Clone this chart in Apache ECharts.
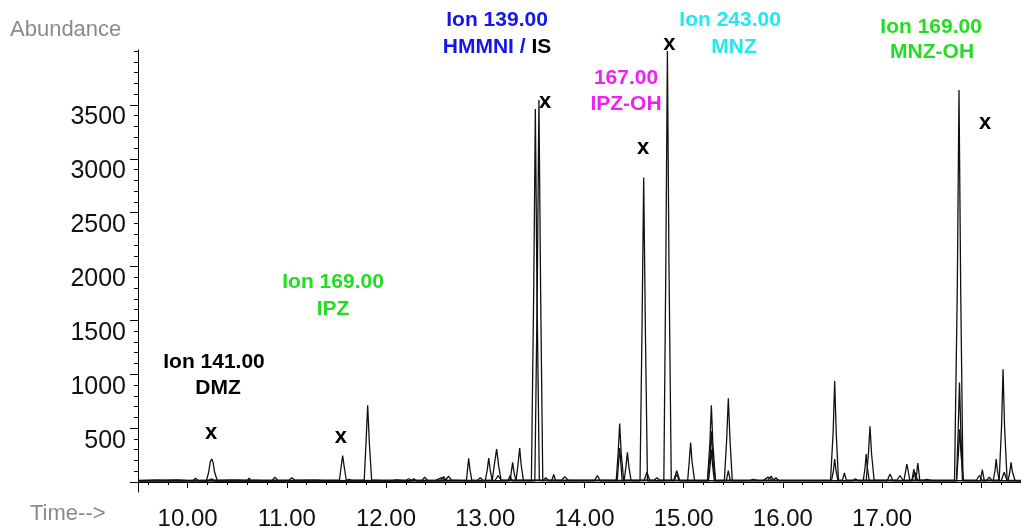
<!DOCTYPE html>
<html>
<head>
<meta charset="utf-8">
<title>Ion chromatograms</title>
<script src="https://cdn.jsdelivr.net/npm/echarts@6.0.0/dist/echarts.min.js"></script>
<style>
  html, body { margin: 0; padding: 0; background: #fff; }
  #main { width: 1021px; height: 531px; }
</style>
</head>
<body>
<div id="main"></div>
<script>
// axis ranges (time in min, abundance in counts)
var timeMin = 9.5, timeMax = 18.4;
var abundMin = -93, abundMax = 4010;

var timeLabels = [10, 11, 12, 13, 14, 15, 16, 17];
var timeMajorTicks = [10, 11, 12, 13, 14, 15, 16, 17, 18];
var abundLabels = [500, 1000, 1500, 2000, 2500, 3000, 3500];
var abundMajorTicks = [0, 500, 1000, 1500, 2000, 2500, 3000, 3500];

// ion traces, [time, abundance]
var ion141 = [
  [9.5, 12], [9.7, 16], [9.8, 10], [10.05, 10], [10.08, 35], [10.11, 10], [10.19, 12], [10.212, 90],
  [10.228, 185], [10.242, 213], [10.256, 185], [10.272, 90], [10.30, 12], [10.5, 18], [10.6, 10],
  [10.85, 12], [10.88, 45], [10.91, 12], [11.3, 18], [11.4, 10], [12.06, 10], [12.1, 20], [12.2, 10],
  [12.5, 15], [12.56, 40], [12.6, 15], [12.81, 14], [12.822, 120], [12.833, 219], [12.845, 120],
  [12.865, 14], [12.92, 14], [12.95, 40], [12.98, 14], [13.07, 14], [13.09, 150], [13.115, 306],
  [13.135, 150], [13.16, 14], [13.77, 14], [13.8, 50], [13.84, 14], [14.9, 14], [14.93, 105],
  [14.96, 14], [15.04, 12], [15.056, 190], [15.07, 367], [15.084, 190], [15.11, 12], [15.67, 12],
  [15.7, 25], [15.75, 12], [16.84, 14], [16.862, 260], [16.878, 516], [16.894, 260], [16.92, 14],
  [17.22, 14], [17.25, 167], [17.28, 14], [17.42, 14], [17.45, 25], [17.5, 12], [18.27, 14],
  [18.288, 95], [18.30, 182], [18.313, 95], [18.34, 14], [18.4, 12]
];
var ion169 = [
  [9.5, 15], [9.9, 20], [10.0, 14], [10.4, 18], [11.02, 16], [11.05, 40], [11.08, 16], [11.53, 16],
  [11.546, 130], [11.563, 244], [11.58, 130], [11.6, 16], [11.78, 16], [11.798, 360], [11.815, 713],
  [11.832, 360], [11.855, 16], [12.2, 16], [12.23, 30], [12.26, 16], [12.6, 14], [12.63, 55],
  [12.66, 14], [13.1, 16], [13.13, 60], [13.16, 16], [14.32, 16], [14.34, 270], [14.355, 543],
  [14.37, 270], [14.395, 16], [14.7, 16], [14.73, 40], [14.76, 16], [15.24, 16], [15.264, 360],
  [15.279, 713], [15.294, 360], [15.32, 16], [15.85, 16], [15.88, 55], [15.91, 16], [16.48, 16],
  [16.507, 470], [16.522, 938], [16.537, 470], [16.56, 16], [16.6, 16], [16.62, 83], [16.64, 16],
  [17.15, 16], [17.18, 60], [17.21, 16], [17.73, 16], [17.758, 1800], [17.775, 3639], [17.792, 1800],
  [17.815, 16], [17.95, 16], [17.98, 60], [18.01, 16], [18.18, 16], [18.204, 520], [18.219, 1046],
  [18.234, 520], [18.26, 16], [18.4, 14]
];
var ion139 = [
  [9.5, 10], [9.9, 14], [10.2, 8], [10.24, 30], [10.28, 8], [10.6, 10], [10.62, 35], [10.64, 10],
  [11.6, 10], [11.63, 25], [11.66, 10], [12.36, 12], [12.39, 45], [12.42, 12], [12.55, 12], [12.58, 50],
  [12.61, 12], [13.0, 12], [13.02, 110], [13.035, 222], [13.05, 110], [13.07, 12], [13.31, 12],
  [13.33, 160], [13.347, 315], [13.362, 160], [13.385, 12], [13.465, 12], [13.488, 1730], [13.505, 3463],
  [13.522, 1730], [13.545, 12], [13.67, 12], [13.69, 70], [13.71, 12], [14.4, 12], [14.418, 140],
  [14.433, 275], [14.448, 140], [14.47, 12], [15.41, 12], [15.433, 390], [15.45, 778], [15.467, 390],
  [15.49, 12], [15.9, 12], [15.93, 40], [15.96, 12], [17.3, 12], [17.32, 120], [17.34, 12], [17.36, 176],
  [17.38, 12], [17.99, 12], [18.01, 114], [18.03, 12], [18.2, 12], [18.23, 90], [18.26, 12], [18.4, 10]
];
var ion167 = [
  [9.5, 8], [10.1, 12], [10.3, 8], [11.9, 10], [12.25, 8], [12.28, 30], [12.31, 8], [13.23, 10],
  [13.25, 60], [13.27, 10], [13.5, 10], [13.524, 1770], [13.541, 3546], [13.558, 1770], [13.58, 10],
  [13.61, 40], [13.64, 10], [14.10, 10], [14.13, 60], [14.16, 10], [14.56, 10],
  [14.58, 1410], [14.597, 2827], [14.614, 1410], [14.635, 10], [14.9, 10], [14.93, 70], [14.96, 10],
  [15.25, 10], [15.266, 150], [15.279, 300], [15.292, 150], [15.31, 10], [15.8, 12], [15.85, 45],
  [15.9, 12], [16.7, 10], [16.73, 30], [16.76, 10], [17.05, 10], [17.08, 74], [17.11, 10], [17.75, 10],
  [17.768, 250], [17.782, 490], [17.796, 250], [17.82, 10], [18.05, 10], [18.08, 45], [18.11, 10],
  [18.4, 10]
];
var ion243 = [
  [9.5, 12], [10.7, 14], [10.8, 10], [11.9, 14], [12.0, 10], [12.7, 14], [12.8, 10], [13.25, 12],
  [13.262, 90], [13.276, 182], [13.29, 90], [13.31, 12], [14.33, 12], [14.342, 160], [14.355, 315],
  [14.368, 160], [14.38, 12], [14.60, 12], [14.63, 90], [14.66, 12], [14.80, 12], [14.82, 2000],
  [14.836, 4000], [14.852, 2000], [14.875, 12], [15.24, 12], [15.265, 235], [15.279, 470], [15.293, 235],
  [15.32, 12], [15.43, 12], [15.45, 105], [15.47, 12], [16.49, 12], [16.51, 110], [16.522, 213],
  [16.535, 110], [16.555, 12], [16.81, 12], [16.828, 130], [16.84, 259], [16.852, 130], [16.87, 12],
  [17.3, 12], [17.33, 90], [17.36, 12], [17.75, 12], [17.766, 460], [17.78, 923], [17.794, 460],
  [17.81, 12], [18.12, 12], [18.138, 105], [18.15, 213], [18.162, 105], [18.18, 12], [18.4, 12]
];

// peak labels, placed in data coordinates
var notes = [
  { t: 10.266, v: 1111, text: 'Ion 141.00', color: '#000000' },
  { t: 10.306, v: 870, text: 'DMZ', color: '#000000' },
  { t: 11.466, v: 1852, text: 'Ion 169.00', color: '#22dd22' },
  { t: 11.466, v: 1602, text: 'IPZ', color: '#22dd22' },
  { t: 13.119, v: 4290, text: 'Ion 139.00', color: '#1414f0' },
  { t: 13.119, v: 4040, text: '{b|HMMNI /} {k|IS}', color: '#1414f0' },
  { t: 14.419, v: 3750, text: '167.00', color: '#ee22ee' },
  { t: 14.419, v: 3509, text: 'IPZ-OH', color: '#ee22ee' },
  { t: 15.468, v: 4290, text: 'Ion 243.00', color: '#22e8f0' },
  { t: 15.508, v: 4040, text: 'MNZ', color: '#22e8f0' },
  { t: 17.494, v: 4222, text: 'Ion 169.00', color: '#22dd22' },
  { t: 17.504, v: 3991, text: 'MNZ-OH', color: '#22dd22' }
];
var crossMarks = [
  [10.236, 454], [11.546, 417], [13.603, 3528], [14.591, 3102], [14.857, 4065], [18.038, 3333]
];

var minorTimeTicks = [];
for (var i = 48; i <= 92; i++) minorTimeTicks.push(i / 5);
var minorAbundTicks = [];
for (var j = 0; j <= 40; j++) minorAbundTicks.push(j * 100);

var font = 'Liberation Sans, Arial, sans-serif';

var myChart = echarts.init(document.getElementById('main'));

function trace(name, data) {
  return {
    name: name,
    type: 'line',
    data: data,
    symbol: 'none',
    smooth: false,
    silent: true,
    lineStyle: { color: '#111', width: 1.3 }
  };
}

var option = {
  animation: false,
  backgroundColor: '#fff',
  grid: { left: 138, right: 0, top: 50, bottom: 38 },
  xAxis: [
    {
      type: 'value', min: timeMin, max: timeMax, position: 'bottom',
      axisLine: { lineStyle: { color: '#000', width: 1 } },
      axisTick: { length: 3, customValues: minorTimeTicks, lineStyle: { color: '#000' } },
      axisLabel: { show: false },
      splitLine: { show: false }
    },
    {
      type: 'value', min: timeMin, max: timeMax, position: 'bottom',
      axisLine: { show: false },
      axisTick: { length: 6, customValues: timeMajorTicks, lineStyle: { color: '#000' } },
      axisLabel: {
        customValues: timeLabels, margin: 15, color: '#111', fontSize: 24, fontFamily: font,
        formatter: function (v) { return v.toFixed(2); }
      },
      splitLine: { show: false }
    }
  ],
  yAxis: [
    {
      type: 'value', min: abundMin, max: abundMax, position: 'left',
      axisLine: { show: true, lineStyle: { color: '#000', width: 1 } },
      axisTick: { length: 4, customValues: minorAbundTicks, lineStyle: { color: '#000' } },
      axisLabel: {
        customValues: abundLabels, margin: 12, color: '#111', fontSize: 25, fontFamily: font,
        verticalAlign: 'top',
        formatter: function (v) { return String(v); }
      },
      splitLine: { show: false }
    },
    {
      type: 'value', min: abundMin, max: abundMax, position: 'left',
      axisLine: { show: false },
      axisTick: { length: 8, customValues: abundMajorTicks, lineStyle: { color: '#000' } },
      axisLabel: { show: false },
      splitLine: { show: false }
    }
  ],
  series: [
    trace('Ion 141', ion141),
    trace('Ion 169', ion169),
    trace('Ion 139', ion139),
    trace('Ion 167', ion167),
    trace('Ion 243', ion243)
  ]
};

myChart.setOption(option);

// axis titles and peak annotations
var graphics = [
  { type: 'text', left: 10, top: 19, style: { text: 'Abundance', fill: '#8a8a8a', font: '22px ' + font } },
  { type: 'text', left: 30, top: 503, style: { text: 'Time-->', fill: '#8a8a8a', font: '22px ' + font } }
];
notes.forEach(function (n) {
  var p = myChart.convertToPixel({ gridIndex: 0 }, [n.t, n.v]);
  graphics.push({
    type: 'text', x: p[0], y: p[1],
    style: {
      text: n.text, fill: n.color, font: 'bold 21px ' + font,
      align: 'center', verticalAlign: 'middle',
      rich: {
        b: { fill: '#1414f0', font: 'bold 21px ' + font },
        k: { fill: '#000', font: 'bold 21px ' + font }
      }
    }
  });
});
crossMarks.forEach(function (c) {
  var p = myChart.convertToPixel({ gridIndex: 0 }, c);
  graphics.push({
    type: 'text', x: p[0], y: p[1],
    style: { text: 'x', fill: '#000', font: 'bold 22px ' + font, align: 'center', verticalAlign: 'middle' }
  });
});
myChart.setOption({ graphic: graphics });
</script>
</body>
</html>
